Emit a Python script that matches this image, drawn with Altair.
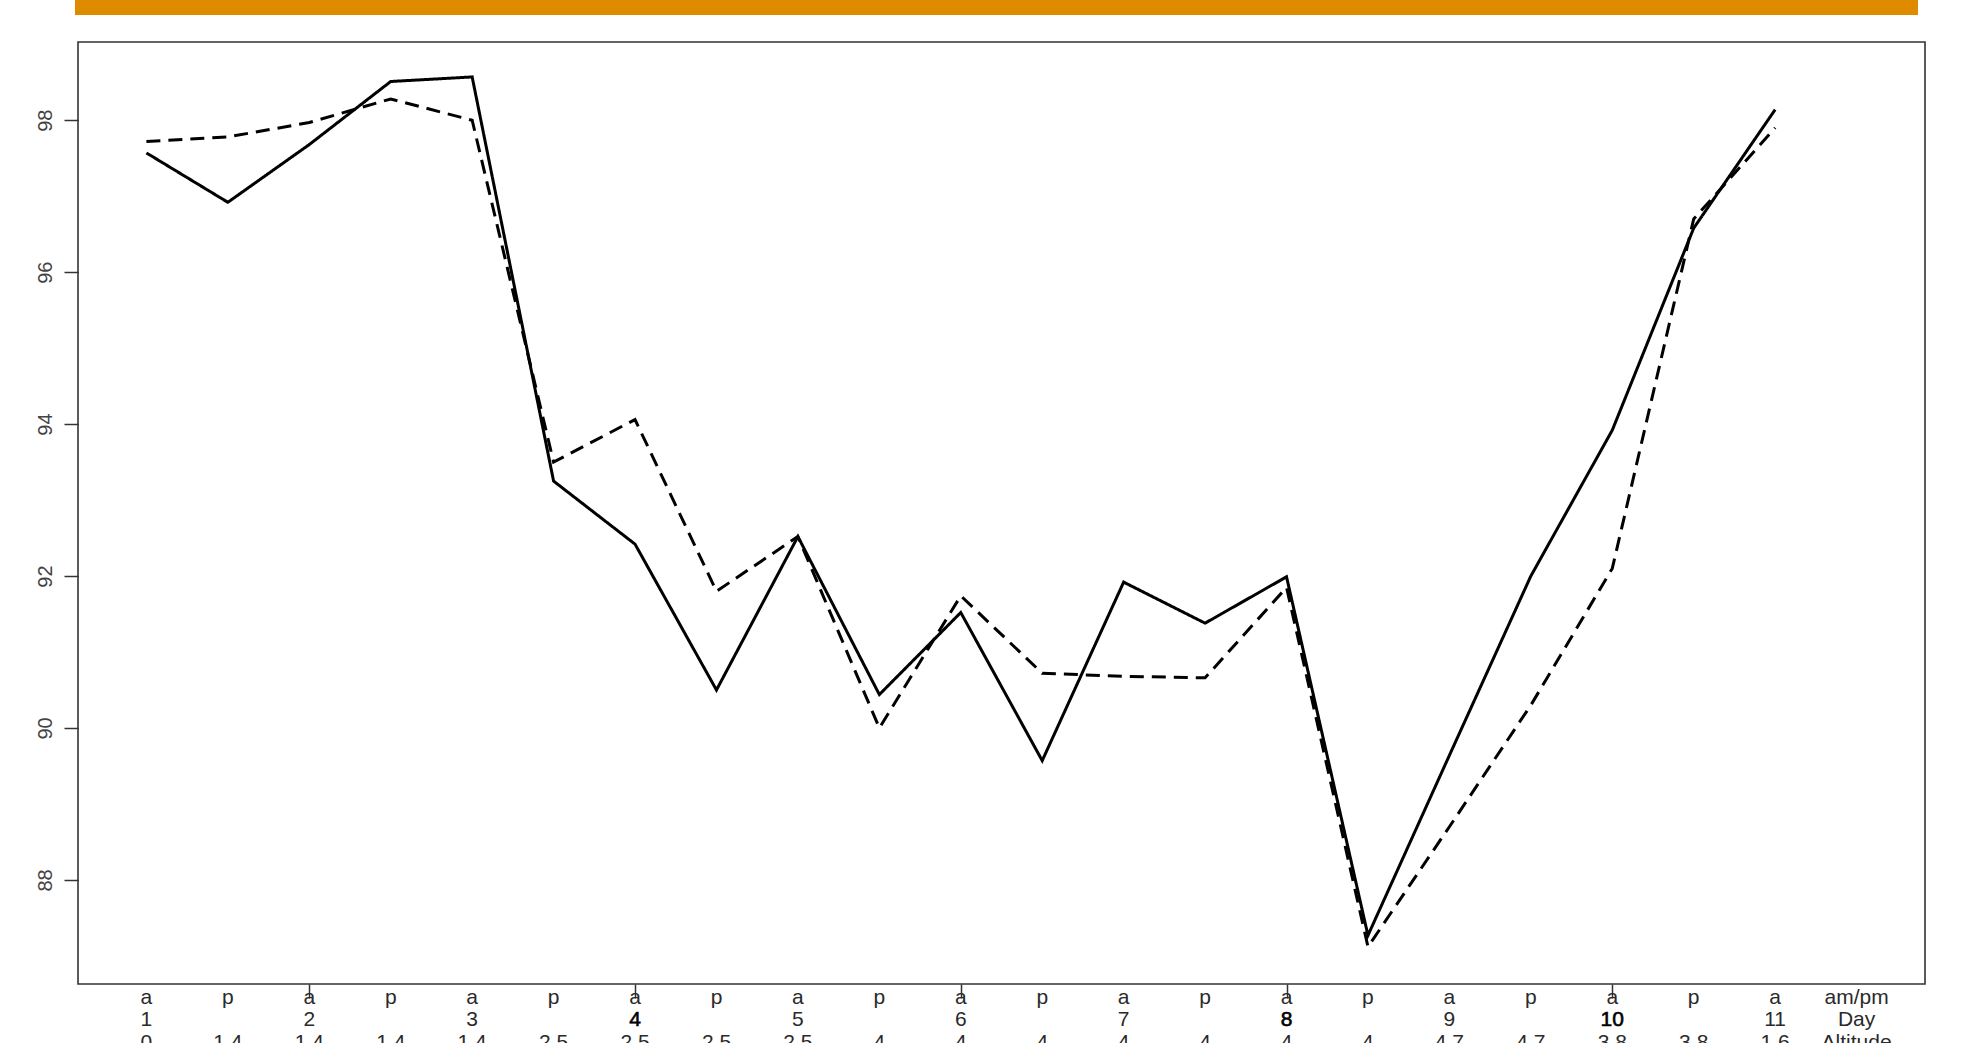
import altair as alt
import pandas as pd

# ---- data ----
index = list(range(1, 22))
solid = [97.57, 96.92, 97.68, 98.51, 98.57, 93.25, 92.42, 90.50, 92.52, 90.44,
         91.52, 89.57, 91.92, 91.38, 91.99, 87.27, 89.64, 92.00, 93.92, 96.58, 98.14]
dashed = [97.72, 97.78, 97.97, 98.28, 98.00, 93.50, 94.06, 91.80, 92.52, 90.00,
          91.74, 90.72, 90.68, 90.66, 91.85, 87.12, 88.70, 90.30, 92.10, 96.70, 97.90]

label_pos = list(range(1, 23))
ampm = ["a", "p"] * 10 + ["a", "am/pm"]
day = ["1", "", "2", "", "3", "", "4", "", "5", "", "6", "", "7", "", "8", "", "9", "",
       "10", "", "11", "Day"]
day_dark = ["4", "8", "10"]
altitude = ["0", "1.4", "1.4", "1.4", "1.4", "2.5", "2.5", "2.5", "2.5", "4", "4", "4",
            "4", "4", "4", "4", "4.7", "4.7", "3.8", "3.8", "1.6", "Altitude"]
x_ticks = [3, 7, 11, 15, 19]
y_ticks = [88, 90, 92, 94, 96, 98]

# ---- layout ----
W, H = 1847, 942
FONT = "Liberation Sans"
TXT = "#2a2a2a"
FS = 21

lines_df = pd.DataFrame({
    "i": index * 2,
    "v": solid + dashed,
    "s": ["solid"] * len(index) + ["dashed"] * len(index),
})
labels_df = pd.DataFrame({"pos": label_pos, "ampm": ampm, "day": day, "alt": altitude})
labels_df["dark"] = labels_df["day"].isin(day_dark)

xs = alt.Scale(domain=[0.16, 22.84], nice=False, zero=False)
ys = alt.Scale(domain=[86.63, 99.03], nice=False, zero=False)

lines = alt.Chart(lines_df).mark_line(color="black", strokeWidth=3).encode(
    x=alt.X("i:Q", scale=xs,
            axis=alt.Axis(values=x_ticks, labels=False, title=None, domain=False,
                          grid=False, tickSize=14, tickWidth=1.5, tickColor="#333")),
    y=alt.Y("v:Q", scale=ys,
            axis=alt.Axis(values=y_ticks, title=None, domain=False, grid=False,
                          tickSize=14, tickWidth=1.5, tickColor="#333",
                          labelAngle=270, labelAlign="center", labelBaseline="alphabetic",
                          labelPadding=13, labelFont=FONT, labelFontSize=20,
                          labelColor="#444")),
    strokeDash=alt.StrokeDash("s:N",
                              scale=alt.Scale(domain=["solid", "dashed"], range=[[1, 0], [14, 8]]),
                              legend=None),
    detail="s:N",
)

base_txt = alt.Chart(labels_df)

row1 = base_txt.mark_text(font=FONT, fontSize=FS, color=TXT, baseline="middle").encode(
    x=alt.X("pos:Q", scale=xs), y=alt.value(H + 14), text="ampm:N")
row2 = base_txt.transform_filter("!datum.dark").mark_text(
    font=FONT, fontSize=FS, color=TXT, baseline="middle").encode(
    x=alt.X("pos:Q", scale=xs), y=alt.value(H + 36), text="day:N")
row2b = base_txt.transform_filter("datum.dark").mark_text(
    font=FONT, fontSize=FS, color="black", stroke="black", strokeWidth=0.6,
    baseline="middle").encode(
    x=alt.X("pos:Q", scale=xs), y=alt.value(H + 36), text="day:N")
row3 = base_txt.mark_text(font=FONT, fontSize=FS, color=TXT, baseline="middle").encode(
    x=alt.X("pos:Q", scale=xs), y=alt.value(H + 59), text="alt:N")

bar = alt.Chart(pd.DataFrame({"k": [0]})).mark_rect(color="#DE8B00").encode(
    x=alt.value(-3), x2=alt.value(1840), y=alt.value(-42), y2=alt.value(-27))

chart = alt.layer(bar, lines, row1, row2, row2b, row3).properties(
    width=W, height=H,
    autosize=alt.AutoSizeParams(type="none"),
    padding={"left": 78, "top": 42, "right": 53, "bottom": 59},
    background="white",
).configure_view(stroke="#333", strokeWidth=1.6).configure_axis(labelFont=FONT)

chart.save("out.html", embed_options={"renderer": "svg", "actions": False})
